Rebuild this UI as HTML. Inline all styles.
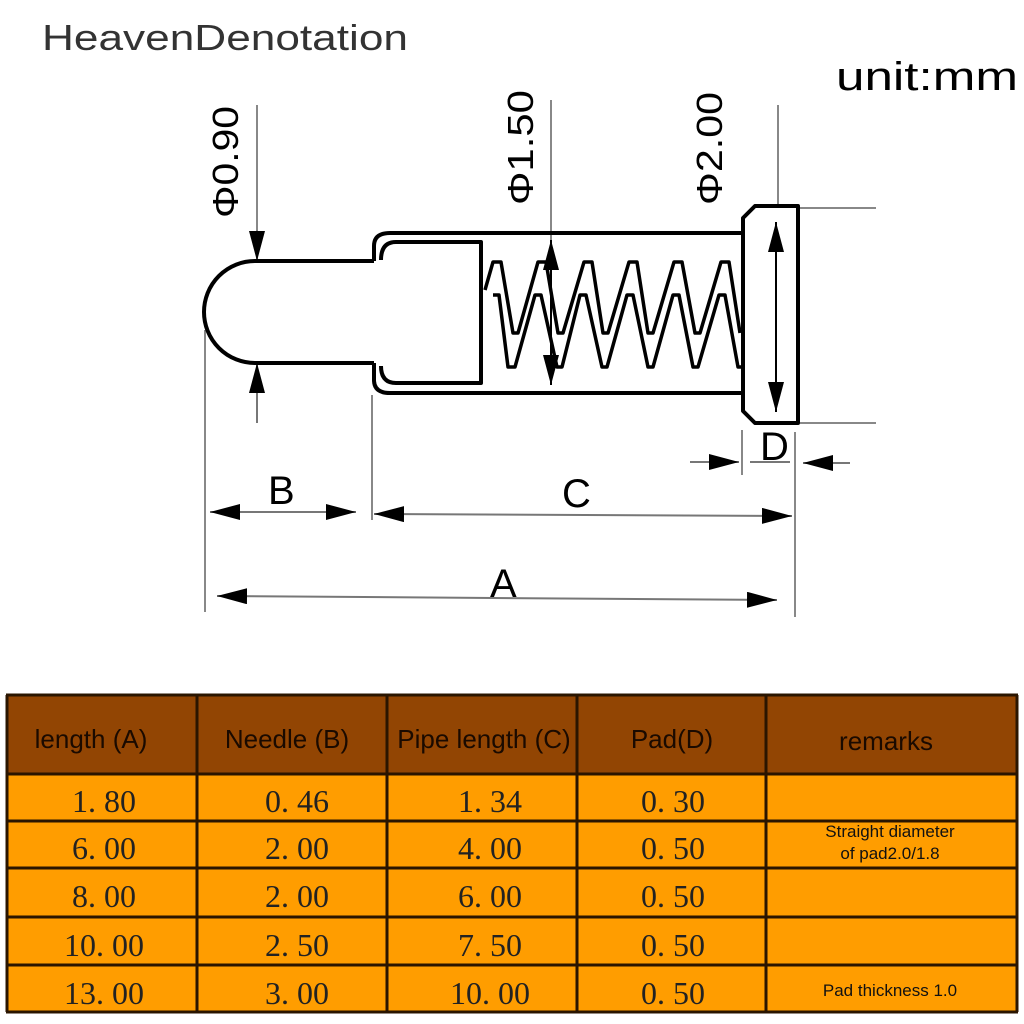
<!DOCTYPE html>
<html><head><meta charset="utf-8"><style>
html,body{margin:0;padding:0;background:#fff;}
body{width:1024px;height:1024px;overflow:hidden;position:relative;}
svg{position:absolute;left:0;top:0;}
</style></head><body>
<svg width="1024" height="1024" viewBox="0 0 1024 1024" xmlns="http://www.w3.org/2000/svg">
<defs>
<marker id="arb" viewBox="0 0 10 10" refX="10" refY="5" markerWidth="30" markerHeight="16" markerUnits="userSpaceOnUse" orient="auto-start-reverse" preserveAspectRatio="none">
<path d="M0,0 L10,5 L0,10 Z" fill="#000"/></marker>
</defs>
<text x="42" y="50" font-family="Liberation Sans, sans-serif" font-size="36" fill="#333" textLength="366" lengthAdjust="spacingAndGlyphs">HeavenDenotation</text>
<text x="836" y="90" font-family="Liberation Sans, sans-serif" font-size="40" fill="#000" textLength="182" lengthAdjust="spacingAndGlyphs">unit:mm</text>

<g font-family="Liberation Sans, sans-serif" font-size="36" fill="#000">
<text transform="translate(238,218) rotate(-90)" textLength="112" lengthAdjust="spacingAndGlyphs">Φ0.90</text>
<text transform="translate(533,205) rotate(-90)" textLength="115" lengthAdjust="spacingAndGlyphs">Φ1.50</text>
<text transform="translate(722,205) rotate(-90)" textLength="113" lengthAdjust="spacingAndGlyphs">Φ2.00</text>
</g>

<g stroke="#888" stroke-width="2" fill="none">
<line x1="257" y1="105" x2="257" y2="230"/>
<line x1="551" y1="100" x2="551" y2="240"/>
<line x1="778" y1="105" x2="778" y2="206"/>
<line x1="800" y1="208" x2="876" y2="208"/>
<line x1="800" y1="423" x2="876" y2="423"/>
<line x1="205" y1="330" x2="205" y2="612"/>
<line x1="372" y1="395" x2="372" y2="520"/>
<line x1="742" y1="430" x2="742" y2="475"/>
<line x1="795" y1="432" x2="795" y2="617"/>
</g>
<g stroke="#777" stroke-width="2" fill="none">
<line x1="257" y1="230" x2="257" y2="261" marker-end="url(#arb)"/>
<line x1="257" y1="423" x2="257" y2="363" marker-end="url(#arb)"/>
<line x1="210" y1="512" x2="356" y2="512" marker-start="url(#arb)" marker-end="url(#arb)"/>
<line x1="374" y1="514" x2="792" y2="516" marker-start="url(#arb)" marker-end="url(#arb)"/>
<line x1="217" y1="596" x2="777" y2="600" marker-start="url(#arb)" marker-end="url(#arb)"/>
<line x1="690" y1="462" x2="739" y2="462" marker-end="url(#arb)"/>
<line x1="750" y1="462" x2="790" y2="462"/>
<line x1="850" y1="463" x2="803" y2="463" marker-end="url(#arb)"/>
</g>
<g font-family="Liberation Sans, sans-serif" font-size="40" fill="#000">
<text x="268" y="504">B</text>
<text x="562" y="507">C</text>
<text x="490" y="597">A</text>
<text x="760" y="460">D</text>
</g>

<g stroke="#000" stroke-width="4" fill="none" stroke-linejoin="round">
<path d="M374,261 L255,261 A51,51 0 0 0 255,363 L374,363"/>
<path d="M374,261 L374,246 Q374,233 390,233 L745,233"/>
<path d="M374,363 L374,380 Q374,393 390,393 L745,393"/>
<path d="M381,260 Q381,242 396,242 L481,242 L481,383 L396,383 Q381,383 381,366"/>
<path d="M743,218 L755,206 L798,206 L798,423 L755,423 L743,411 Z" fill="#fff"/>
<polyline stroke-width="3.5" points="485,290 493,262 501,262 513,333 518,333 538,262 546,262 558,333 563,333 584,262 592,262 603,333 608,333 629,262 637,262 648,333 653,333 674,262 682,262 695,333 700,333 721,262 729,262 740,333"/>
<polyline stroke-width="3.5" points="493,295 499,295 508,367 515,367 535,295 541,295 557,367 562,367 580,295 586,295 602,367 607,367 627,295 633,295 648,367 653,367 673,295 679,295 693,367 698,367 719,295 725,295 738,367 743,367"/>
</g>
<g stroke="#000" stroke-width="2" fill="none">
<line x1="551" y1="240" x2="551" y2="385" marker-start="url(#arb)" marker-end="url(#arb)"/>
<line x1="776" y1="222" x2="776" y2="412" marker-start="url(#arb)" marker-end="url(#arb)"/>
</g>

<rect x="6" y="695" width="1012" height="79" fill="#924503"/>
<rect x="6" y="774" width="1012" height="238" fill="#FF9D00"/>
<g stroke="#2a1500" stroke-width="3">
<line x1="6" y1="695" x2="1018" y2="695"/>
<line x1="6" y1="774" x2="1018" y2="774"/>
<line x1="6" y1="821" x2="1018" y2="821"/>
<line x1="6" y1="868" x2="1018" y2="868"/>
<line x1="6" y1="917" x2="1018" y2="917"/>
<line x1="6" y1="965" x2="1018" y2="965"/>
<line x1="6" y1="1012" x2="1018" y2="1012"/>
<line x1="7" y1="695" x2="7" y2="1012"/>
<line x1="197" y1="695" x2="197" y2="1012"/>
<line x1="387" y1="695" x2="387" y2="1012"/>
<line x1="577" y1="695" x2="577" y2="1012"/>
<line x1="766" y1="695" x2="766" y2="1012"/>
<line x1="1017" y1="695" x2="1017" y2="1012"/>
</g>
<g font-family="Liberation Sans, sans-serif" font-size="26" fill="#1a0a00" text-anchor="middle">
<text x="91" y="748">length (A)</text>
<text x="287" y="748">Needle (B)</text>
<text x="484" y="748">Pipe length (C)</text>
<text x="672" y="748">Pad(D)</text>
<text x="886" y="750">remarks</text>
</g>
<g font-family="Liberation Serif, serif" font-size="32" fill="#222" text-anchor="middle">
<text x="104" y="812">1. 80</text><text x="297" y="812">0. 46</text><text x="490" y="812">1. 34</text><text x="673" y="812">0. 30</text>
<text x="104" y="859">6. 00</text><text x="297" y="859">2. 00</text><text x="490" y="859">4. 00</text><text x="673" y="859">0. 50</text>
<text x="104" y="907">8. 00</text><text x="297" y="907">2. 00</text><text x="490" y="907">6. 00</text><text x="673" y="907">0. 50</text>
<text x="104" y="956">10. 00</text><text x="297" y="956">2. 50</text><text x="490" y="956">7. 50</text><text x="673" y="956">0. 50</text>
<text x="104" y="1004">13. 00</text><text x="297" y="1004">3. 00</text><text x="490" y="1004">10. 00</text><text x="673" y="1004">0. 50</text>
</g>
<g font-family="Liberation Sans, sans-serif" font-size="17" fill="#111" text-anchor="middle">
<text x="890" y="837">Straight diameter</text>
<text x="890" y="859">of pad2.0/1.8</text>
<text x="890" y="996">Pad thickness 1.0</text>
</g>
</svg>
</body></html>
